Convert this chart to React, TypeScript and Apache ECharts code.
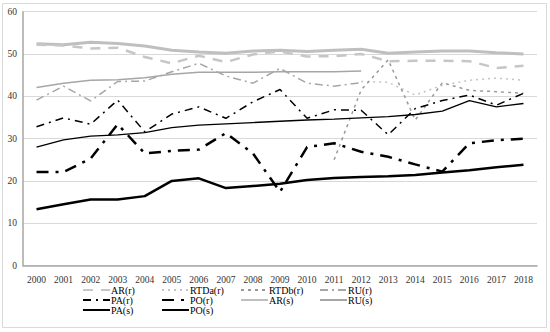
import React, { useEffect, useRef } from "react";
import * as echarts from "echarts";

const years = ["2000","2001","2002","2003","2004","2005","2006","2007","2008","2009","2010","2011","2012","2013","2014","2015","2016","2017","2018"];

const AR_r = [52.2, 52.0, 51.3, 51.5, 49.3, 47.8, 49.6, 48.1, 49.9, 50.6, 49.4, 49.5, 50.0, 48.3, 48.4, 48.4, 48.3, 46.7, 47.2];
const RTDa_r = [null, null, null, null, null, null, null, null, null, null, null, null, 43.5, 43.3, 40.3, 42.6, 43.8, 44.3, 43.8];
const RTDb_r = [null, null, null, null, null, null, null, null, null, null, null, 25.0, 41.5, 48.6, 34.4, 43.2, 41.4, 41.1, 40.7];
const RU_r = [39.1, 42.4, 38.9, 43.5, 43.6, 45.8, 47.8, 44.8, 43.1, 46.6, 43.1, 42.4, 43.2, null, null, null, null, null, null];
const PA_r = [32.8, 34.9, 33.4, 39.1, 31.6, 35.8, 37.5, 34.8, 38.7, 41.6, 34.8, 36.8, 36.7, 30.9, 37.1, 39.0, 40.3, 37.9, 40.7];
const PO_r = [22.1, 22.1, 25.3, 33.4, 26.5, 27.1, 27.4, 31.3, 26.5, 17.4, 28.0, 28.9, 26.9, 25.7, 23.9, 22.2, 28.9, 29.6, 30.0];
const AR_s = [52.4, 52.2, 52.8, 52.5, 51.9, 50.9, 50.5, 50.2, 50.7, 50.9, 50.6, 50.9, 51.1, 50.2, 50.5, 50.7, 50.7, 50.3, 50.0];
const RU_s = [42.1, 43.1, 43.8, 43.9, 44.4, 45.2, 45.7, 45.7, 45.7, 45.8, 45.8, 45.8, 46.0, null, null, null, null, null, null];
const PA_s = [28.0, 29.7, 30.6, 30.9, 31.4, 32.6, 33.2, 33.5, 33.8, 34.1, 34.4, 34.6, 34.9, 35.2, 35.7, 36.5, 39.0, 37.5, 38.3];
const PO_s = [13.3, 14.5, 15.6, 15.6, 16.4, 20.0, 20.6, 18.3, 18.8, 19.3, 20.2, 20.7, 20.9, 21.1, 21.4, 22.0, 22.5, 23.2, 23.8];

const yTicks = [0, 10, 20, 30, 40, 50, 60];

const FONT = "Times New Roman, Liberation Serif, serif";

type S = { name: string; data: (number | null)[]; color: string; width: number; type: any; z: number };

const seriesDefs: S[] = [
  { name: "AR(s)", data: AR_s, color: "#bfbfbf", width: 3, type: "solid", z: 1 },
  { name: "AR(r)", data: AR_r, color: "#c6c6c6", width: 2.5, type: [10, 8], z: 2 },
  { name: "RU(s)", data: RU_s, color: "#a6a6a6", width: 1.5, type: "solid", z: 2 },
  { name: "RU(r)", data: RU_r, color: "#a6a6a6", width: 1.5, type: [8, 4, 2, 4], z: 2 },
  { name: "RTDa(r)", data: RTDa_r, color: "#c4c4c4", width: 1.5, type: [2, 4], z: 2 },
  { name: "RTDb(r)", data: RTDb_r, color: "#999999", width: 1.5, type: [3, 4], z: 2 },
  { name: "PA(s)", data: PA_s, color: "#000000", width: 1.3, type: "solid", z: 3 },
  { name: "PA(r)", data: PA_r, color: "#000000", width: 1.5, type: [8, 5, 2, 5], z: 3 },
  { name: "PO(r)", data: PO_r, color: "#000000", width: 2.5, type: [12, 7, 3, 7], z: 3 },
  { name: "PO(s)", data: PO_s, color: "#000000", width: 2.5, type: "solid", z: 3 },
];

const legendLayout: [string, number, number][] = [
  ["AR(r)", 82, 285],
  ["RTDa(r)", 161, 285],
  ["RTDb(r)", 240, 285],
  ["RU(r)", 319, 285],
  ["PA(r)", 82, 295],
  ["PO(r)", 161, 295],
  ["AR(s)", 240, 295],
  ["RU(s)", 319, 295],
  ["PA(s)", 82, 305],
  ["PO(s)", 161, 305],
];

export default function App() {
  const ref = useRef<HTMLDivElement>(null);
  useEffect(() => {
    if (!ref.current) return;
    const chart = echarts.init(ref.current, undefined, { renderer: "svg" });
    chart.setOption({
      animation: false,
      backgroundColor: "#ffffff",
      graphic: [
        {
          type: "rect",
          shape: { x: 2.5, y: 3.5, width: 544, height: 324 },
          style: { fill: "none", stroke: "#d9d9d9", lineWidth: 1 },
          silent: true,
        },
      ],
      grid: { left: 23, right: 13, top: 11.7, bottom: 66.5, containLabel: false },
      xAxis: {
        type: "category",
        data: years,
        boundaryGap: true,
        axisLine: { show: true, lineStyle: { color: "#a6a6a6", width: 1.5 } },
        axisTick: { show: false },
        axisLabel: { fontFamily: FONT, fontSize: 9.5, color: "#333333", margin: 9, interval: 0 },
      },
      yAxis: {
        type: "value",
        min: yTicks[0],
        max: yTicks[yTicks.length - 1],
        interval: 10,
        axisLine: { show: true, lineStyle: { color: "#a6a6a6", width: 1.5 } },
        axisTick: { show: false },
        splitLine: { lineStyle: { color: "#d9d9d9", width: 1 } },
        axisLabel: { fontFamily: FONT, fontSize: 9.5, color: "#333333", margin: 6 },
      },
      legend: legendLayout.map(([name, left, top]) => ({
        data: [name],
        left,
        top,
        padding: 0,
        itemGap: 0,
        itemWidth: 27,
        itemHeight: 10,
        itemStyle: { opacity: 0 },
        textStyle: { fontFamily: FONT, fontSize: 10, color: "#000000", padding: [0, 0, 0, -4] },
        selectedMode: false,
      })),
      series: seriesDefs.map((s) => ({
        name: s.name,
        type: "line",
        data: s.data,
        symbol: "none",
        showSymbol: false,
        connectNulls: false,
        z: s.z,
        itemStyle: { color: s.color },
        lineStyle: { color: s.color, width: s.width, type: s.type, cap: "butt" },
      })),
    });
    return () => chart.dispose();
  }, []);
  return (
    <div
      ref={ref}
      style={{ position: "fixed", left: 0, top: 0, width: 550, height: 332, background: "#fff" }}
    />
  );
}
